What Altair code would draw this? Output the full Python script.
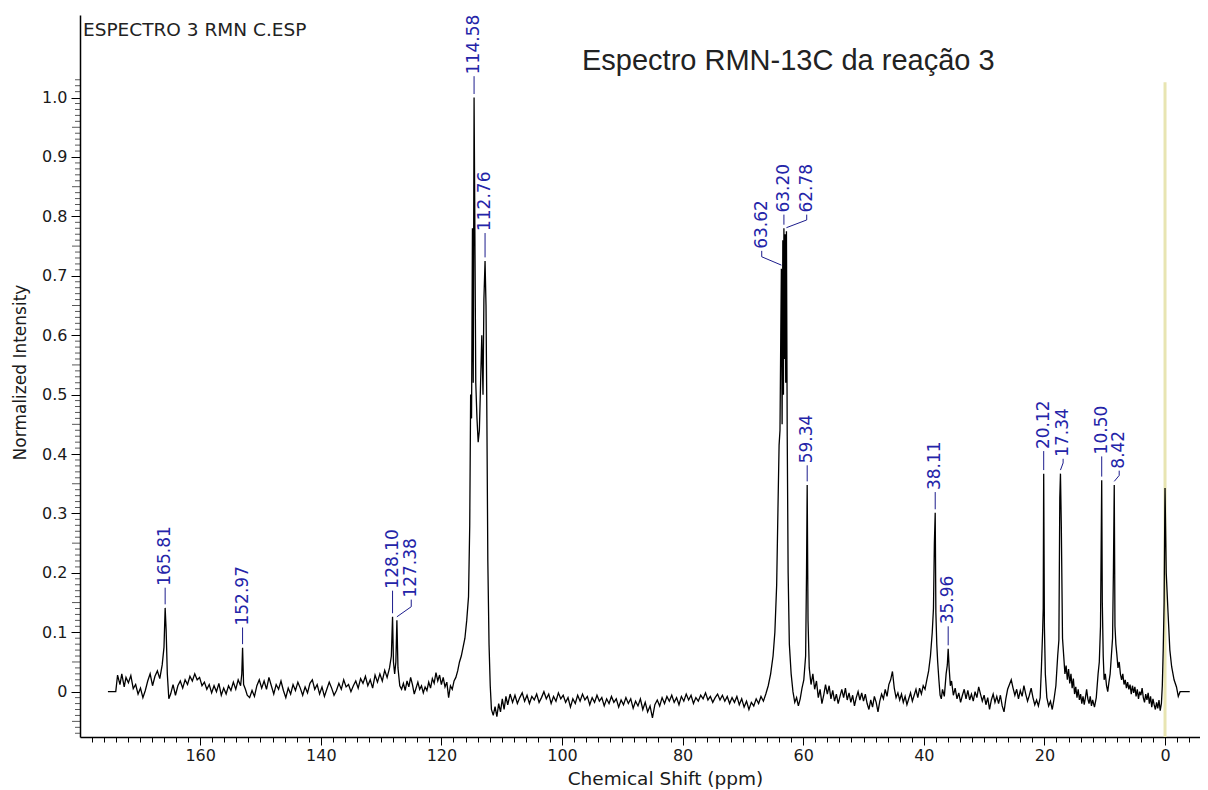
import altair as alt
import pandas as pd

# ---- spectrum trace: (chemical shift ppm, normalized intensity) ----
trace_left = [
    (175.3, 0.000), (174.0, 0.000), (173.7, 0.028), (173.3, 0.012), (173.0, 0.030),
    (172.6, 0.008), (172.3, 0.024), (171.9, 0.015), (171.5, 0.027), (171.1, 0.005),
    (170.7, 0.012), (170.3, -0.004), (169.9, 0.006), (169.5, -0.010), (169.1, 0.002),
    (168.7, 0.018), (168.3, 0.030), (167.9, 0.010), (167.5, 0.026), (167.1, 0.035),
    (166.7, 0.022), (166.3, 0.045), (166.0, 0.075), (165.81, 0.141), (165.65, 0.105),
    (165.45, 0.030), (165.2, -0.012), (164.9, -0.004), (164.5, 0.012), (164.1, -0.006),
    (163.7, 0.010), (163.3, 0.018), (162.9, 0.006), (162.5, 0.020), (162.1, 0.012),
    (161.7, 0.026), (161.3, 0.018), (160.9, 0.030), (160.5, 0.020), (160.1, 0.024),
    (159.7, 0.010), (159.3, 0.016), (158.9, 0.004), (158.5, 0.012), (158.1, -0.002),
    (157.7, 0.010), (157.3, 0.000), (156.9, 0.014), (156.5, -0.006), (156.1, 0.006),
    (155.7, -0.004), (155.3, 0.010), (154.9, 0.002), (154.5, 0.016), (154.1, 0.004),
    (153.7, 0.020), (153.3, 0.010), (153.1, 0.030), (152.97, 0.074), (152.8, 0.012),
    (152.5, 0.004), (152.2, -0.006), (151.8, -0.010), (151.4, 0.002), (151.0, -0.008),
    (150.6, 0.010), (150.2, 0.020), (149.8, 0.006), (149.4, 0.018), (149.0, 0.004),
    (148.6, 0.024), (148.2, 0.010), (147.8, -0.004), (147.4, 0.012), (147.0, 0.004),
    (146.6, 0.018), (146.2, 0.002), (145.8, -0.010), (145.4, 0.006), (145.0, -0.004),
    (144.6, 0.012), (144.2, 0.002), (143.8, 0.016), (143.4, 0.006), (143.0, -0.006),
    (142.6, 0.008), (142.2, -0.002), (141.8, 0.014), (141.4, 0.020), (141.0, 0.004),
    (140.6, 0.012), (140.2, -0.004), (139.8, 0.008), (139.4, -0.008), (139.0, 0.004),
    (138.6, 0.016), (138.2, 0.006), (137.8, -0.006), (137.4, 0.002), (137.0, 0.014),
    (136.6, 0.004), (136.2, 0.020), (135.8, 0.008), (135.4, 0.012), (135.0, 0.000),
    (134.6, 0.010), (134.2, 0.018), (133.8, 0.006), (133.4, 0.022), (133.0, 0.014),
    (132.6, 0.026), (132.2, 0.010), (131.8, 0.020), (131.4, 0.006), (131.0, 0.028),
    (130.6, 0.016), (130.2, 0.030), (129.8, 0.018), (129.4, 0.036), (129.0, 0.024),
    (128.6, 0.040), (128.3, 0.060), (128.10, 0.126), (127.95, 0.050), (127.75, 0.030),
    (127.55, 0.050), (127.38, 0.120), (127.2, 0.040), (126.9, 0.010), (126.6, 0.004),
    (126.3, 0.014), (126.0, 0.002), (125.7, 0.018), (125.4, 0.008), (125.1, 0.024),
    (124.8, 0.012), (124.5, -0.004), (124.2, 0.006), (123.9, 0.016), (123.6, 0.004),
    (123.3, 0.010), (123.0, -0.002), (122.7, 0.008), (122.4, 0.002), (122.1, 0.016),
    (121.8, 0.006), (121.5, 0.022), (121.2, 0.014), (120.9, 0.032), (120.6, 0.018),
    (120.3, 0.028), (120.0, 0.012), (119.7, 0.024), (119.4, 0.008), (119.1, 0.016),
    (118.8, -0.010), (118.5, 0.010), (118.2, 0.004), (117.9, 0.018), (117.6, 0.024),
    (117.3, 0.035),
]

cluster_114 = [
    (117.0, 0.050), (116.7, 0.060), (116.4, 0.075), (116.1, 0.090), (115.8, 0.120),
    (115.5, 0.160), (115.3, 0.280), (115.15, 0.500), (115.0, 0.460), (114.85, 0.780),
    (114.72, 0.520), (114.58, 1.000), (114.45, 0.780), (114.3, 0.520), (114.1, 0.460),
    (113.9, 0.420), (113.7, 0.440), (113.5, 0.520), (113.3, 0.600), (113.1, 0.500),
    (112.95, 0.660), (112.76, 0.725), (112.6, 0.650), (112.45, 0.450), (112.3, 0.220),
    (112.1, 0.080), (111.9, 0.010), (111.7, -0.030),
]

trace_mid = [
    (111.4, -0.040), (111.1, -0.025), (110.8, -0.042), (110.5, -0.020), (110.2, -0.034),
    (109.9, -0.012), (109.6, -0.030), (109.3, -0.008), (109.0, -0.022), (108.6, -0.004),
    (108.2, -0.018), (107.8, -0.006), (107.4, -0.020), (107.0, -0.010), (106.6, -0.002),
    (106.2, -0.016), (105.8, -0.006), (105.4, -0.020), (105.0, -0.008), (104.6, -0.014),
    (104.2, -0.004), (103.8, -0.018), (103.4, -0.010), (103.0, 0.000), (102.6, -0.012),
    (102.2, -0.004), (101.8, -0.020), (101.4, -0.008), (101.0, -0.016), (100.6, -0.002),
    (100.2, -0.012), (99.8, -0.006), (99.4, -0.018), (99.0, -0.010), (98.6, -0.026),
    (98.2, -0.012), (97.8, -0.020), (97.4, -0.006), (97.0, -0.016), (96.6, -0.004),
    (96.2, -0.014), (95.8, -0.008), (95.4, -0.022), (95.0, -0.010), (94.6, -0.018),
    (94.2, -0.006), (93.8, -0.016), (93.4, -0.010), (93.0, -0.024), (92.6, -0.012),
    (92.2, -0.020), (91.8, -0.008), (91.4, -0.018), (91.0, -0.012), (90.6, -0.026),
    (90.2, -0.014), (89.8, -0.022), (89.4, -0.010), (89.0, -0.020), (88.6, -0.012),
    (88.2, -0.028), (87.8, -0.016), (87.4, -0.024), (87.0, -0.012), (86.6, -0.030),
    (86.2, -0.018), (85.8, -0.034), (85.4, -0.024), (85.0, -0.044), (84.6, -0.022),
    (84.2, -0.014), (83.8, -0.024), (83.4, -0.010), (83.0, -0.020), (82.6, -0.008),
    (82.2, -0.016), (81.8, -0.006), (81.4, -0.018), (81.0, -0.010), (80.6, -0.022),
    (80.2, -0.008), (79.8, -0.016), (79.4, -0.004), (79.0, -0.014), (78.6, -0.006),
    (78.2, -0.020), (77.8, -0.010), (77.4, -0.016), (77.0, -0.006), (76.6, -0.012),
    (76.2, -0.002), (75.8, -0.014), (75.4, -0.008), (75.0, -0.018), (74.6, -0.010),
    (74.2, -0.004), (73.8, -0.014), (73.4, -0.006), (73.0, -0.016), (72.6, -0.008),
    (72.2, -0.020), (71.8, -0.010), (71.4, -0.018), (71.0, -0.008), (70.6, -0.022),
    (70.2, -0.012), (69.8, -0.026), (69.4, -0.016), (69.0, -0.030), (68.6, -0.018),
    (68.2, -0.024), (67.8, -0.012), (67.4, -0.020), (67.0, -0.008), (66.6, -0.016),
    (66.2, -0.004),
]

cluster_63 = [
    (65.8, 0.010), (65.4, 0.030), (65.0, 0.060), (64.7, 0.100), (64.4, 0.180),
    (64.2, 0.300), (64.0, 0.415), (63.85, 0.440), (63.72, 0.600), (63.62, 0.712),
    (63.5, 0.450), (63.38, 0.760), (63.28, 0.500), (63.20, 0.780), (63.1, 0.560),
    (63.0, 0.770), (62.9, 0.520), (62.78, 0.775), (62.65, 0.430), (62.5, 0.200),
    (62.3, 0.080), (62.0, 0.030), (61.7, 0.000), (61.4, -0.018), (61.1, -0.010),
    (60.8, -0.024), (60.5, -0.012), (60.2, 0.006), (59.9, 0.020), (59.6, 0.060),
    (59.45, 0.200), (59.34, 0.348), (59.2, 0.120), (59.0, 0.040), (58.7, 0.012),
]

trace_right = [
    (58.4, 0.030), (58.1, 0.004), (57.8, 0.018), (57.5, -0.010), (57.2, 0.004),
    (56.9, -0.020), (56.6, -0.006), (56.3, 0.012), (56.0, -0.004), (55.7, 0.010),
    (55.4, -0.012), (55.1, 0.002), (54.8, -0.016), (54.5, -0.004), (54.2, -0.020),
    (53.9, -0.008), (53.6, 0.004), (53.3, -0.010), (53.0, 0.006), (52.7, -0.014),
    (52.4, -0.002), (52.1, -0.018), (51.8, -0.006), (51.5, -0.024), (51.2, -0.010),
    (50.9, 0.000), (50.6, -0.014), (50.3, -0.002), (50.0, -0.016), (49.7, -0.004),
    (49.4, -0.020), (49.1, -0.030), (48.8, -0.014), (48.5, -0.026), (48.2, -0.008),
    (47.9, -0.018), (47.6, -0.034), (47.3, -0.016), (47.0, -0.004), (46.7, -0.012),
    (46.4, 0.004), (46.1, -0.008), (45.8, 0.012), (45.5, 0.020), (45.2, 0.034),
    (44.9, 0.006), (44.6, -0.010), (44.3, -0.002), (44.0, -0.014), (43.7, -0.004),
    (43.4, -0.018), (43.1, -0.008), (42.8, -0.022), (42.5, -0.012), (42.2, -0.002),
    (41.9, -0.016), (41.6, -0.006), (41.3, 0.004), (41.0, -0.010), (40.7, 0.006),
    (40.4, -0.004), (40.1, 0.010), (39.8, 0.004), (39.5, 0.020), (39.2, 0.035),
    (38.9, 0.060), (38.6, 0.100), (38.4, 0.140), (38.25, 0.250), (38.11, 0.301),
    (38.0, 0.133), (37.85, 0.080), (37.7, 0.050), (37.5, 0.020), (37.3, -0.006),
    (37.1, -0.012), (36.9, 0.004), (36.6, -0.008), (36.3, 0.030), (36.1, 0.045),
    (35.96, 0.072), (35.8, 0.040), (35.6, 0.010), (35.4, 0.018), (35.1, -0.006),
    (34.8, 0.006), (34.5, -0.012), (34.2, -0.002), (33.9, -0.018), (33.6, -0.006),
    (33.3, 0.004), (33.0, -0.012), (32.7, 0.002), (32.4, -0.014), (32.1, -0.004),
    (31.8, -0.016), (31.5, 0.000), (31.2, -0.010), (30.9, 0.008), (30.6, -0.004),
    (30.3, -0.016), (30.0, -0.006), (29.7, -0.022), (29.4, -0.010), (29.1, -0.030),
    (28.8, -0.014), (28.5, -0.004), (28.2, -0.018), (27.9, -0.008), (27.6, -0.020),
    (27.3, -0.006), (27.0, -0.024), (26.7, -0.034), (26.4, -0.012), (26.1, 0.004),
    (25.8, 0.012), (25.5, 0.020), (25.2, 0.006), (24.9, -0.006), (24.6, 0.004),
    (24.3, -0.012), (24.0, 0.002), (23.7, -0.008), (23.4, 0.010), (23.1, -0.004),
    (22.8, -0.016), (22.5, -0.006), (22.2, 0.006), (21.9, -0.010), (21.6, -0.022),
    (21.3, -0.014), (21.0, -0.024), (20.7, -0.010), (20.5, 0.040), (20.3, 0.100),
    (20.2, 0.140), (20.12, 0.367), (20.0, 0.109), (19.85, 0.030), (19.6, -0.010),
    (19.3, -0.024), (19.0, -0.016), (18.7, -0.030), (18.4, -0.012), (18.1, 0.010),
    (17.8, 0.060), (17.6, 0.087), (17.45, 0.326), (17.34, 0.367), (17.2, 0.280),
    (17.0, 0.090), (16.8, 0.060), (16.6, 0.030), (16.4, 0.044), (16.2, 0.020),
    (16.0, 0.038), (15.8, 0.014), (15.6, 0.030), (15.4, 0.006), (15.2, 0.022),
    (15.0, -0.004), (14.8, 0.008), (14.6, -0.010), (14.4, 0.004), (14.2, -0.014),
    (14.0, -0.004), (13.8, -0.020), (13.6, -0.008), (13.4, -0.022), (13.2, -0.010),
    (13.0, 0.004), (12.8, -0.012), (12.6, -0.020), (12.4, -0.008), (12.2, -0.024),
    (12.0, -0.014), (11.7, -0.026), (11.4, -0.010), (11.1, 0.030), (10.9, 0.050),
    (10.7, 0.110), (10.6, 0.233), (10.50, 0.356), (10.4, 0.150), (10.25, 0.060),
    (10.1, 0.020), (9.9, 0.030), (9.7, 0.010), (9.5, 0.000), (9.3, 0.016),
    (9.1, 0.030), (8.9, 0.060), (8.7, 0.090), (8.55, 0.210), (8.42, 0.348),
    (8.3, 0.110), (8.15, 0.080), (8.0, 0.064), (7.8, 0.040), (7.6, 0.050),
    (7.4, 0.030), (7.2, 0.020), (7.0, 0.030), (6.8, 0.012), (6.6, 0.020),
    (6.4, 0.006), (6.2, 0.016), (6.0, 0.004), (5.8, 0.012), (5.6, -0.004),
    (5.4, 0.010), (5.2, -0.002), (5.0, 0.008), (4.8, -0.008), (4.6, 0.004),
    (4.4, -0.012), (4.2, 0.000), (4.0, -0.006), (3.8, 0.006), (3.6, -0.010),
    (3.4, -0.018), (3.2, -0.004), (3.0, -0.014), (2.8, -0.002), (2.6, -0.020),
    (2.4, -0.008), (2.2, -0.026), (2.0, -0.012), (1.8, -0.022), (1.6, -0.030),
    (1.4, -0.018), (1.2, -0.028), (1.0, -0.014), (0.8, -0.032), (0.6, -0.020),
    (0.45, 0.010), (0.3, 0.070), (0.15, 0.150), (0.05, 0.286), (0.0, 0.343),
    (-0.2, 0.200), (-0.5, 0.133), (-0.8, 0.070), (-1.1, 0.042), (-1.5, 0.020),
    (-1.9, 0.008), (-2.2, -0.008), (-2.5, 0.000), (-4.1, 0.000),
]

# ---- peak annotations ----
peak_labels = ["165.81", "152.97", "128.10", "127.38", "114.58", "112.76", "63.62", "63.20",
               "62.78", "59.34", "38.11", "35.96", "20.12", "17.34", "10.50", "8.42"]
peak_ppm = [165.81, 152.97, 128.10, 127.38, 114.58, 112.76, 63.62, 63.20,
            62.78, 59.34, 38.11, 35.96, 20.12, 17.34, 10.50, 8.42]
label_ppm = [165.81, 152.97, 128.10, 125.0, 114.58, 112.76, 66.88, 63.20,
             59.42, 59.34, 38.11, 35.96, 20.12, 16.90, 10.50, 7.60]
leader_start = [0.147, 0.080, 0.132, 0.126, 1.006, 0.731, 0.718, 0.786,
                0.781, 0.354, 0.307, 0.078, 0.373, 0.373, 0.362, 0.354]
leader_bend = [0.147, 0.080, 0.132, 0.143, 1.006, 0.731, 0.732, 0.786,
               0.794, 0.354, 0.307, 0.078, 0.373, 0.385, 0.362, 0.364]
text_base = [0.175, 0.108, 0.170, 0.155, 1.036, 0.772, 0.742, 0.803,
             0.803, 0.381, 0.336, 0.110, 0.405, 0.392, 0.396, 0.372]

# reference (TMS) marker line
tms_ppm = [0.0]
tms_low = [-0.0763]
tms_high = [1.026]

file_label = "ESPECTRO 3 RMN C.ESP"
chart_title = "Espectro RMN-13C da reação 3"
x_title = "Chemical Shift (ppm)"
y_title = "Normalized Intensity"

# axis tick positions
x_tick_values = [v for v in range(-4, 180, 2)]
y_major_values = [round(i * 0.1, 1) for i in range(0, 11)]
y_mid_values = [-0.05] + [round(i * 0.1 + 0.05, 2) for i in range(0, 10)]
y_minor_values = [round(i * 0.01, 2) for i in range(-7, 104) if i % 5 != 0]

# ---- tables ----
spec_df = pd.DataFrame(trace_left + cluster_114 + trace_mid + cluster_63 + trace_right,
                       columns=["ppm", "val"])

lead_rows = []
for i, lab in enumerate(peak_labels):
    lead_rows.append({"id": lab, "k": 0, "ppm": peak_ppm[i], "val": leader_start[i]})
    lead_rows.append({"id": lab, "k": 1, "ppm": label_ppm[i], "val": leader_bend[i]})
    lead_rows.append({"id": lab, "k": 2, "ppm": label_ppm[i], "val": text_base[i]})
lead_df = pd.DataFrame(lead_rows)

label_df = pd.DataFrame({"label": peak_labels, "ppm": label_ppm, "val": text_base})
tms_df = pd.DataFrame({"ppm": tms_ppm, "val": tms_low, "hi": tms_high})
minor_df = pd.DataFrame({"tick": y_minor_values})
mid_df = pd.DataFrame({"tick": y_mid_values})

# ---- scales & axes ----
x_scale = alt.Scale(domain=[-5.80, 179.93], reverse=True, nice=False, zero=False)
y_scale = alt.Scale(domain=[-0.0763, 1.139], nice=False, zero=False)

x_axis = alt.Axis(
    values=x_tick_values,
    labelExpr="datum.value % 20 == 0 ? format(datum.value, 'd') : ''",
    tickSize=8,
    tickDash={"condition": {"test": "datum.value % 20 != 0", "value": [5, 50]}, "value": []},
    labelPadding=2, labelOverlap=False, labelFlush=False,
    title=x_title, titleX=585, titleY=47, titleAlign="center",
    titleBaseline="alphabetic", titleFontSize=18.5,
)
y_axis = alt.Axis(
    values=y_major_values,
    labelExpr="datum.value == 0 ? '0' : format(datum.value, '.1f')",
    tickSize=9,
    labelPadding=4, labelOverlap=False, labelFlush=False,
    title=y_title, titleAngle=270, titleX=-60, titleY=357,
    titleAlign="center", titleBaseline="middle", titleFontSize=17,
)

X = alt.X("ppm:Q", scale=x_scale, axis=x_axis)
Y = alt.Y("val:Q", scale=y_scale, axis=y_axis)
Y_tick = alt.Y("tick:Q", scale=y_scale, axis=None)

tms = alt.Chart(tms_df).mark_rule(color="#e8e5b2", strokeWidth=3).encode(
    x=X, y=Y, y2="hi:Q")

spectrum = alt.Chart(spec_df).mark_line(color="black", strokeWidth=1.3).encode(x=X, y=Y)

leaders = alt.Chart(lead_df).mark_line(color="#1c1c8c", strokeWidth=1).encode(
    x=X, y=Y, detail="id:N", order="k:O")

labels = alt.Chart(label_df).mark_text(
    angle=270, align="left", baseline="middle", dx=2,
    font="DejaVu Sans", fontSize=17, color="#2424a8",
).encode(x=X, y=Y, text="label:N")

header = alt.Chart(pd.DataFrame({"t": [file_label]})).mark_text(
    align="left", baseline="alphabetic", font="DejaVu Sans", fontSize=18.5, color="#222222",
).encode(x=alt.value(3), y=alt.value(21), text="t:N")

title = alt.Chart(pd.DataFrame({"t": [chart_title]})).mark_text(
    align="left", baseline="alphabetic", font="Liberation Sans", fontSize=29, color="#222222",
).encode(x=alt.value(502), y=alt.value(55), text="t:N")

main = alt.layer(tms, spectrum, leaders, labels, header, title)

# minor / intermediate ticks on the intensity axis (short horizontal marks left of the axis)
minor_ticks = alt.Chart(minor_df).mark_tick(
    color="#111111", orient="horizontal", size=5, thickness=1, xOffset=-2.5,
).encode(y=Y_tick, x=alt.value(0))
mid_ticks = alt.Chart(mid_df).mark_tick(
    color="#111111", orient="horizontal", size=8, thickness=1, xOffset=-4,
).encode(y=Y_tick, x=alt.value(0))

chart = alt.layer(main, minor_ticks, mid_ticks).resolve_axis(y="independent").properties(
    width=1120, height=722,
    autosize=alt.AutoSizeParams(type="none"),
    padding={"left": 72, "top": 7, "right": 0, "bottom": 60},
).configure_view(stroke=None).configure_axis(
    domainColor="black", domainWidth=1.5, tickColor="black", tickWidth=1,
    labelColor="#1a1a1a", labelFont="DejaVu Sans", labelFontSize=16,
    titleFont="DejaVu Sans", titleFontWeight="normal", titleColor="#1a1a1a",
    grid=False,
)

chart.save("out.html", embed_options={"renderer": "svg", "actions": False})
